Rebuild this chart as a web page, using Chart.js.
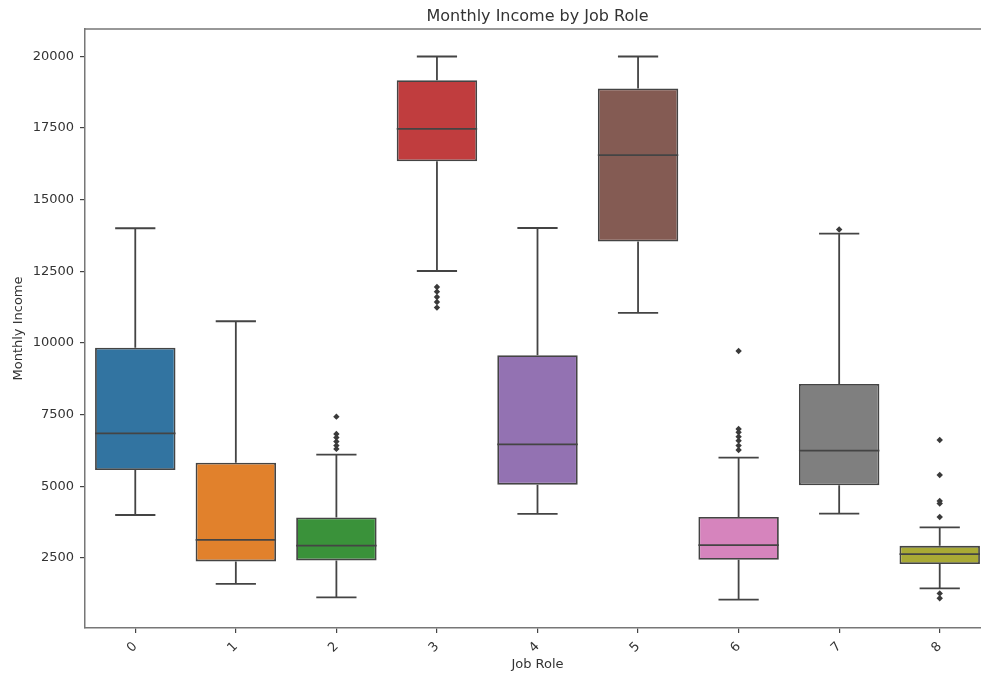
<!DOCTYPE html>
<html><head><meta charset="utf-8">
<script src="https://cdn.jsdelivr.net/npm/chart.js@4.4.1/dist/chart.umd.min.js"></script>
<style>html,body{margin:0;padding:0;background:#fff;overflow:hidden;width:981px;height:673px}canvas{display:block}</style>
</head><body>
<canvas id="c" width="1000" height="673"></canvas>
<script>
const jobRoles = ['0','1','2','3','4','5','6','7','8'];
const whiskerLow  = [4000, 1600, 1130, 12510, 4040, 11046, 1050, 4050, 1440];
const q1Values    = [5572, 2383, 2417, 16339, 5059, 13535, 2441, 5035, 2293];
const medianValues= [6848, 3130, 2934, 17465, 6464, 16548, 2948, 6245, 2637];
const q3Values    = [9835, 5826, 3912, 19163, 9571, 18874, 3932, 8571, 2924];
const whiskerHigh = [14000, 10757, 6105, 19990, 14010, 19990, 6001, 13815, 3567];
const outliers = [
  [],
  [],
  [7430, 6827, 6700, 6560, 6420, 6305],
  [11954, 11790, 11605, 11430, 11233],
  [],
  [],
  [9721, 7001, 6883, 6733, 6594, 6420, 6270],
  [13955],
  [6618, 5398, 4492, 4400, 3932, 1267, 1095]
];
const yTickValues = [2500, 5000, 7500, 10000, 12500, 15000, 17500, 20000];
const boxColors = ['#3274a1','#e1812c','#3a923a','#c03d3e','#9372b2','#845b53','#d684bd','#7f7f7f','#a9aa35'];

const LINE = '#444444';
const FONT = 'DejaVu Sans';

const boxPlugin = {
  id: 'boxWhiskers',
  beforeDatasetsDraw(chart) {
    const ctx = chart.ctx, x = chart.scales.x, y = chart.scales.y;
    ctx.save();
    ctx.strokeStyle = LINE; ctx.lineWidth = 1.8;
    jobRoles.forEach((r, i) => {
      const cx = x.getPixelForValue(i);
      const capL = x.getPixelForValue(i - 0.2), capR = x.getPixelForValue(i + 0.2);
      const yl = y.getPixelForValue(whiskerLow[i]), yq1 = y.getPixelForValue(q1Values[i]);
      const yh = y.getPixelForValue(whiskerHigh[i]), yq3 = y.getPixelForValue(q3Values[i]);
      ctx.beginPath();
      ctx.moveTo(cx, yq1); ctx.lineTo(cx, yl);
      ctx.moveTo(cx, yq3); ctx.lineTo(cx, yh);
      ctx.moveTo(capL, yl); ctx.lineTo(capR, yl);
      ctx.moveTo(capL, yh); ctx.lineTo(capR, yh);
      ctx.stroke();
    });
    ctx.restore();
  },
  afterDatasetsDraw(chart) {
    const ctx = chart.ctx, y = chart.scales.y;
    const meta = chart.getDatasetMeta(0);
    ctx.save();
    ctx.strokeStyle = LINE; ctx.lineWidth = 1.8;
    jobRoles.forEach((r, i) => {
      const bar = meta.data[i];
      const ym = y.getPixelForValue(medianValues[i]);
      ctx.beginPath();
      ctx.moveTo(bar.x - bar.width / 2, ym); ctx.lineTo(bar.x + bar.width / 2, ym);
      ctx.stroke();
    });
    const a = chart.chartArea;
    ctx.strokeStyle = '#777'; ctx.lineWidth = 1.5;
    ctx.beginPath();
    ctx.moveTo(a.left, a.top); ctx.lineTo(a.right, a.top); ctx.lineTo(a.right, a.bottom);
    ctx.stroke();
    ctx.restore();
  }
};

new Chart(document.getElementById('c'), {
  data: {
    labels: jobRoles,
    datasets: [
      {
        type: 'bar',
        data: jobRoles.map((r, i) => [q1Values[i], q3Values[i]]),
        backgroundColor: boxColors,
        borderColor: LINE,
        borderWidth: 1.8,
        borderSkipped: false,
        barPercentage: 0.8,
        categoryPercentage: 1.0,
        grouped: false
      },
      {
        type: 'scatter',
        data: outliers.flatMap((list, i) => list.map(v => ({x: jobRoles[i], y: v}))),
        pointStyle: 'rectRot',
        pointRadius: 3.2,
        backgroundColor: '#3a3a3a',
        borderColor: '#3a3a3a',
        borderWidth: 0,
        showLine: false
      }
    ]
  },
  options: {
    responsive: false,
    animation: false,
    layout: { padding: { left: 0, right: 10, top: 0, bottom: 0 } },
    plugins: {
      legend: { display: false },
      tooltip: { enabled: false },
      title: {
        display: true, fullSize: false,
        text: 'Monthly Income by Job Role',
        color: '#333', font: { family: FONT, size: 16, weight: 'normal' },
        padding: { top: 7, bottom: 2.8 }
      }
    },
    scales: {
      x: {
        type: 'category',
        offset: true,
        grid: { display: true, offset: false, drawOnChartArea: false, tickLength: 5, color: LINE, lineWidth: 1.2 },
        border: { color: '#777', width: 1.5 },
        ticks: { minRotation: 45, maxRotation: 45, color: '#333', font: { family: FONT, size: 13 }, padding: 6 },
        title: { display: true, text: 'Job Role', color: '#333', font: { family: FONT, size: 13 }, padding: { top: 2, bottom: 1 } },
        afterFit: s => { s.height = 45; }
      },
      y: {
        type: 'linear',
        min: 60, max: 20949,
        afterBuildTicks: s => { s.ticks = yTickValues.map(v => ({ value: v })); },
        grid: { display: true, drawOnChartArea: false, tickLength: 5, color: LINE, lineWidth: 1.2 },
        border: { color: '#777', width: 1.5 },
        ticks: { color: '#333', font: { family: FONT, size: 13 }, padding: 6, callback: v => String(v) },
        title: { display: true, text: 'Monthly Income', color: '#333', font: { family: FONT, size: 13 }, padding: { top: 11, bottom: 0 } },
        afterFit: s => { s.width = 85; }
      }
    }
  },
  plugins: [boxPlugin]
});
</script>
</body></html>
